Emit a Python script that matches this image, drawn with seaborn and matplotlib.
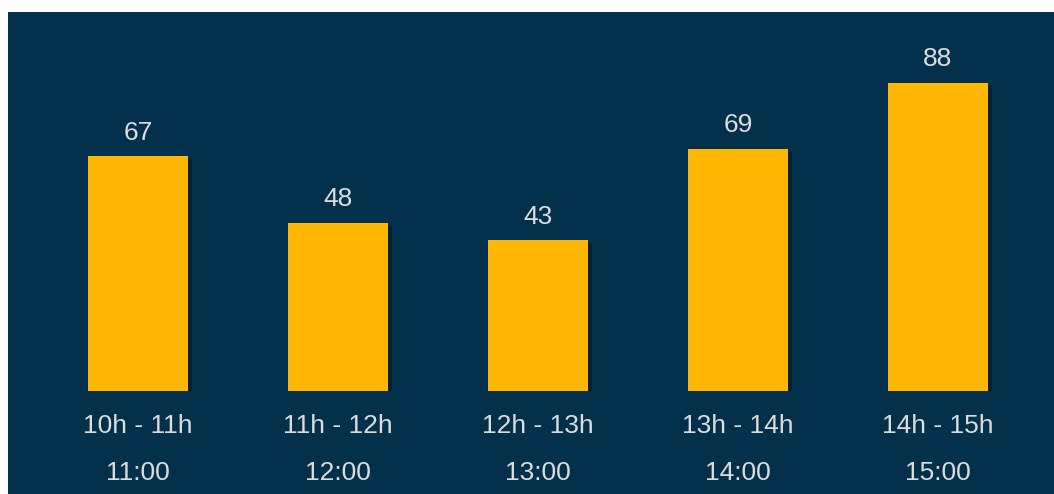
import matplotlib
matplotlib.use("Agg")
import matplotlib.pyplot as plt
import matplotlib.patheffects as pe
from matplotlib.patches import Rectangle
import seaborn as sns
import pandas as pd

# ---- data ----
ranges = ["10h - 11h", "11h - 12h", "12h - 13h", "13h - 14h", "14h - 15h"]
hours = ["11:00", "12:00", "13:00", "14:00", "15:00"]
values = [67, 48, 43, 69, 88]

NAVY = "#03304a"
BAR = "#ffb703"
TXT = "#dcdcdc"

sns.set_style("white")
plt.rcParams["font.family"] = ["Liberation Sans", "DejaVu Sans"]

W, H = 1054, 494
fig = plt.figure(figsize=(W / 100, H / 100), dpi=100, facecolor="white")
fig.patches.append(Rectangle((8 / W, 0), (W - 8) / W, (H - 12) / H,
                             transform=fig.transFigure, facecolor=NAVY,
                             edgecolor="none", zorder=-10))

ax = fig.add_axes([38 / W, 103 / H, 1000 / W, 350 / H])
ax.set_facecolor("none")
ax.set_zorder(5)

df = pd.DataFrame({"range": ranges, "value": values})
sns.barplot(data=df, x="range", y="value", color=BAR, saturation=1,
            width=0.5, ax=ax)

for p in ax.patches:
    p.set_edgecolor("none")
    p.set_path_effects([pe.SimplePatchShadow(offset=(3, -2), shadow_rgbFace="black", alpha=0.3),
                        pe.Normal()])

ax.set_xlim(-0.5, len(values) - 0.5)
ax.set_ylim(0, 100)
ax.set_xlabel("")
ax.set_ylabel("")
ax.set_xticks([])
ax.set_yticks([])
for s in ax.spines.values():
    s.set_visible(False)

fs = 19
for i, v in enumerate(values):
    ax.annotate(str(v), xy=(i, v), xytext=(0, 17 * 0.72), textcoords="offset points",
                ha="center", va="baseline", color=TXT, fontsize=fs)

tr = ax.get_xaxis_transform()
for i, (r, h) in enumerate(zip(ranges, hours)):
    ax.text(i, -42 / 350, r, transform=tr, ha="center", va="baseline",
            color=TXT, fontsize=fs, clip_on=False)
    ax.text(i, -89 / 350, h, transform=tr, ha="center", va="baseline",
            color=TXT, fontsize=fs, clip_on=False)

fig.savefig("out.png", dpi=100, facecolor="white")
